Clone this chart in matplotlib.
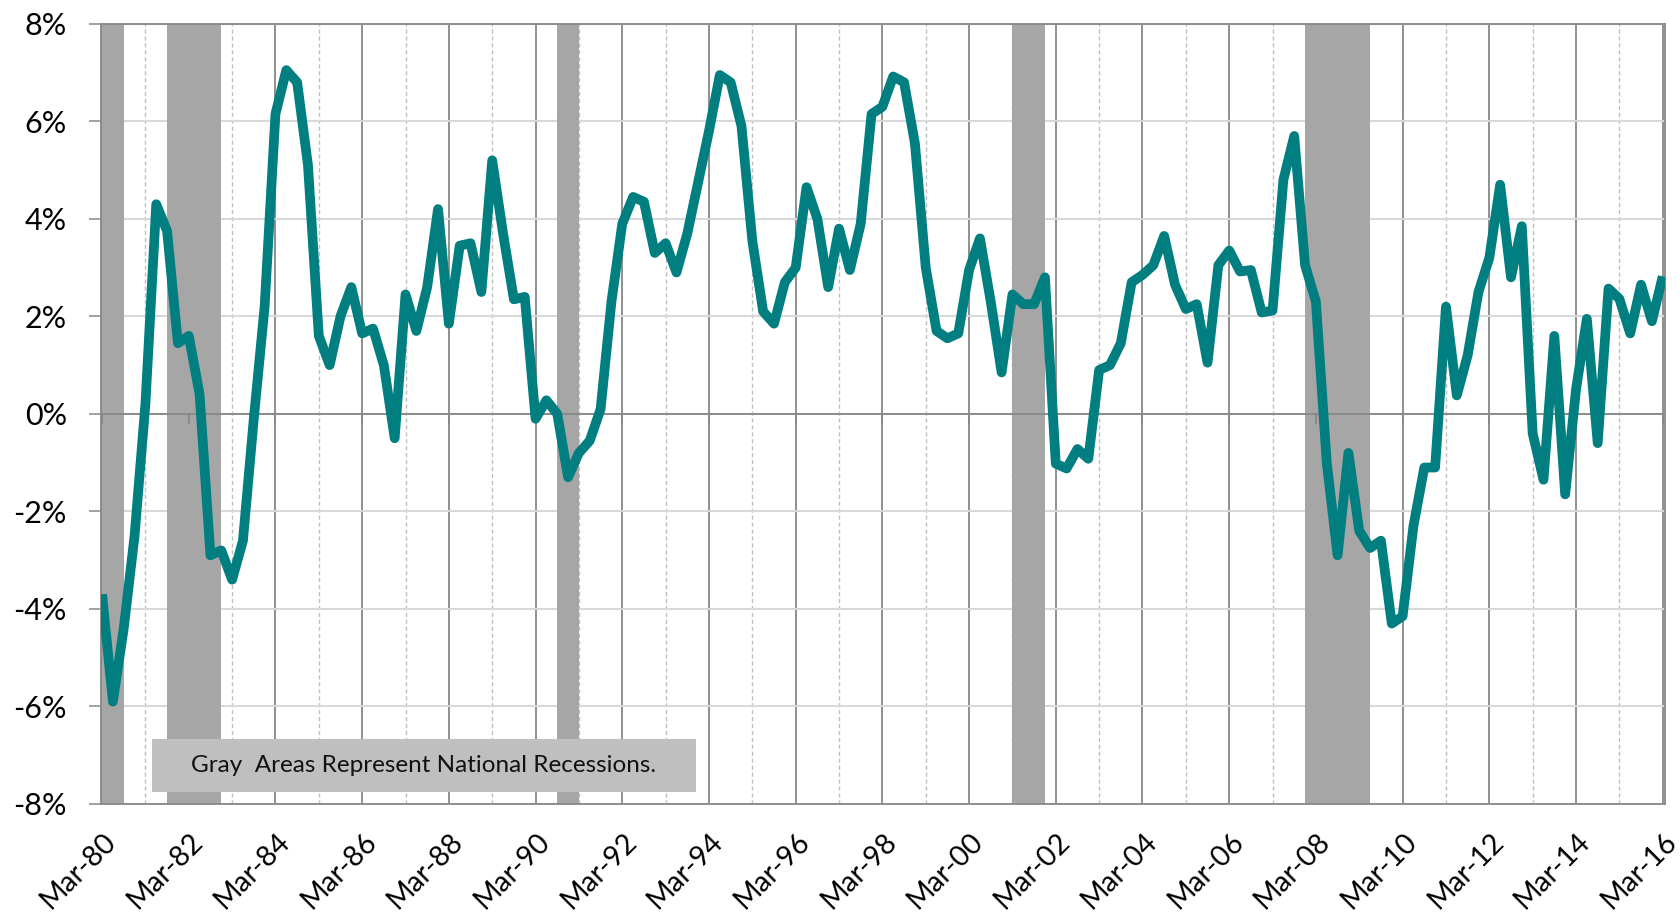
import matplotlib
matplotlib.use('Agg')
import matplotlib.pyplot as plt
import matplotlib.transforms as mtransforms
import numpy as np
import pandas as pd
from matplotlib.patches import Rectangle

# quarterly growth, % (Mar-80 .. Mar-16)
growth_1980s = [-3.7, -5.9, -4.4, -2.5, 0.2, 4.3, 3.75, 1.45, 1.6, 0.4,
                -2.9, -2.8, -3.4, -2.6, -0.1, 2.2, 6.15, 7.05, 6.8, 5.1,
                1.6, 1.0, 2.0, 2.6, 1.65, 1.75, 1.0, -0.5, 2.45, 1.7,
                2.6, 4.2, 1.85, 3.45, 3.5, 2.5, 5.2, 3.7, 2.35, 2.4]
growth_1990s = [-0.1, 0.28, 0.0, -1.3, -0.8, -0.55, 0.1, 2.3, 3.9, 4.45,
                4.35, 3.3, 3.5, 2.9, 3.7, 4.75, 5.8, 6.95, 6.8, 5.9,
                3.55, 2.1, 1.85, 2.7, 3.0, 4.65, 4.0, 2.6, 3.8, 2.95,
                3.9, 6.15, 6.3, 6.92, 6.8, 5.55, 3.0, 1.7, 1.55, 1.65]
growth_2000s = [2.95, 3.6, 2.3, 0.85, 2.45, 2.25, 2.25, 2.8, -1.02, -1.12,
                -0.72, -0.92, 0.9, 1.0, 1.45, 2.7, 2.85, 3.05, 3.65, 2.65,
                2.15, 2.25, 1.05, 3.05, 3.35, 2.92, 2.95, 2.08, 2.12, 4.8,
                5.7, 3.05, 2.3, -1.0, -2.9, -0.8, -2.4, -2.75, -2.6, -4.3]
growth_2010s = [-4.15, -2.3, -1.1, -1.1, 2.2, 0.38, 1.2, 2.5, 3.2, 4.7,
                2.8, 3.85, -0.4, -1.35, 1.6, -1.65, 0.5, 1.95, -0.6, 2.57,
                2.36, 1.65, 2.65, 1.9, 2.82]

recession_start = ['1980Q1', '1981Q3', '1990Q3', '2001Q1', '2007Q4']
recession_end = ['1980Q3', '1982Q4', '1991Q1', '2001Q4', '2009Q2']

y_ticks = [-8, -6, -4, -2, 0, 2, 4, 6, 8]
note = 'Gray  Areas Represent National Recessions.'

growth = np.array(growth_1980s + growth_1990s + growth_2000s + growth_2010s)
quarters = pd.period_range('1980Q1', periods=len(growth), freq='Q')
pos = np.arange(len(quarters))
qpos = {str(q): i for i, q in enumerate(quarters)}

plt.rcParams['font.family'] = ['Lato', 'DejaVu Sans']

GRID_DARK = '#878787'
TEAL = '#007E80'

fig = plt.figure(figsize=(16.8, 9.16), dpi=100)
ax = fig.add_axes([0.0601, 0.1223, 0.9309, 0.8517])
ax.set_axisbelow(True)

# recession bands
for s, e in zip(recession_start, recession_end):
    ax.axvspan(qpos[s], qpos[e], color='#A6A6A6', lw=0, zorder=1)

ax.plot(pos, growth, color=TEAL, lw=7, solid_joinstyle='round',
        solid_capstyle='butt', zorder=4)

major = pos[::8]
minor = pos[4::8]
ax.set_xticks(major)
ax.set_xticks(minor, minor=True)
ax.set_xticklabels([q.strftime('%b-%y') for q in quarters[::8]],
                   rotation=45, ha='right', va='center',
                   rotation_mode='anchor', fontsize=20.5)
ax.tick_params(axis='x', which='both', length=0, pad=24)
# nudge rotated labels right, like Excel does
shift = mtransforms.ScaledTranslation(0.1, 0, fig.dpi_scale_trans)
for lbl in ax.get_xticklabels():
    lbl.set_transform(lbl.get_transform() + shift)

ax.set_yticks(y_ticks)
ax.set_yticklabels([f'{v}%' for v in y_ticks], fontsize=22)
ax.tick_params(axis='y', length=8.6, width=1.1, color=GRID_DARK, pad=16)

ax.grid(axis='y', color='#D9D9D9', lw=1.5)
ax.grid(axis='x', which='major', color=GRID_DARK, lw=1.3)
ax.grid(axis='x', which='minor', color='#C0C0C0', lw=1.0, ls=(0, (3, 2)))

ax.set_xlim(-0.1, len(growth) - 0.8)
ax.set_ylim(-8, 8)

for sp in ax.spines.values():
    sp.set_color(GRID_DARK)
    sp.set_linewidth(1.3)

# zero axis with crossing tick marks
ax.axhline(0, color=GRID_DARK, lw=1.3, zorder=2)
ax.vlines(major, -0.2, 0, color=GRID_DARK, lw=1.3, zorder=2)

# note box
ax.add_patch(Rectangle((0.0326, 0.0154), 0.3478, 0.0679, transform=ax.transAxes,
                       facecolor='#BFBFBF', edgecolor='none', zorder=5))
ax.text(0.2065, 0.0493, note, transform=ax.transAxes, ha='center', va='center',
        fontsize=17.5, color='#111111', zorder=6)

fig.savefig('out.png', dpi=100)
